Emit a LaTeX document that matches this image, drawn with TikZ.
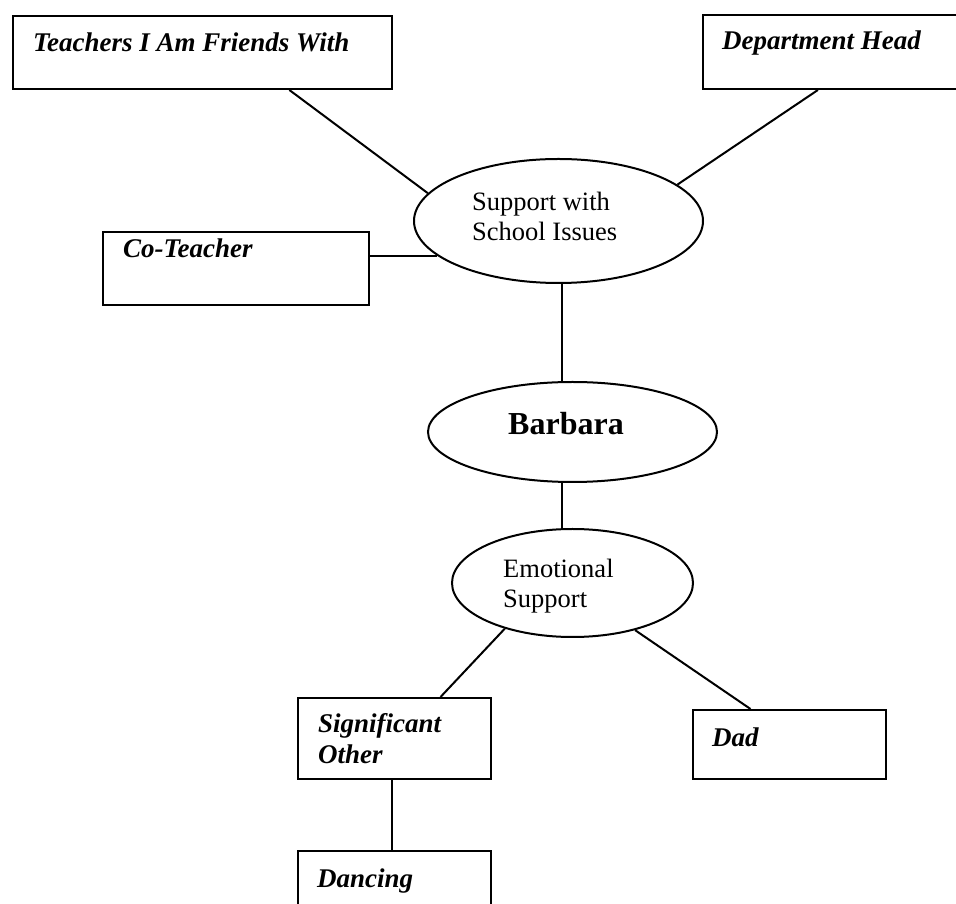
\documentclass[tikz,border=0pt]{standalone}
\usepackage{fontspec}
\setmainfont{Liberation Serif}
\usetikzlibrary{calc,shapes.geometric}

\tikzset{
  link/.style={line width=2pt, line cap=butt},
  box/.style={draw, line width=2pt, rectangle, inner sep=0pt, anchor=north west},
  oval/.style={draw, line width=2pt, ellipse, inner sep=0pt},
  boxtext/.style={anchor=base west, inner sep=0pt, font=\fontsize{27}{31}\selectfont\bfseries\itshape, align=left},
  ovaltext/.style={anchor=base west, inner sep=0pt, font=\fontsize{26.5}{30.5}\selectfont, align=left},
}

\begin{document}
\begin{tikzpicture}[x=1pt, y=1pt]
\useasboundingbox (0,0) rectangle (956,903);
\clip (0,0) rectangle (956,903);

% category ovals
\node[oval, minimum width=289, minimum height=124] (support) at (558.5,682) {};
\node[oval, minimum width=289, minimum height=100] (barbara) at (572.5,471) {};
\node[oval, minimum width=241, minimum height=108] (emo) at (572.5,320) {};

% people boxes
\node[box, minimum width=379, minimum height=73] (teachbox) at (12,888) {};
\node[box, minimum width=280, minimum height=74] (deptbox) at (702,889) {};
\node[box, minimum width=266, minimum height=73] (cobox) at (102,672) {};
\node[box, minimum width=193, minimum height=81] (sigbox) at (297,206) {};
\node[box, minimum width=193, minimum height=69] (dadbox) at (692,194) {};
\node[box, minimum width=193, minimum height=80] (dancebox) at (297,53) {};

% labels (a two-line node sits on the baseline of its last line)
\node[boxtext] (teachtxt) at (33,851) {Teachers I Am Friends With};
\node[boxtext] (depttxt) at (722,853) {Department Head};
\node[boxtext] (cotxt) at (123,645) {Co-Teacher};
\node[boxtext] (sigtxt) at (318,140) {Significant\\Other};
\node[boxtext] (dadtxt) at (712,157) {Dad};
\node[boxtext] (dancetxt) at (317,16) {Dancing};
\node[ovaltext] (supporttxt) at (472,662) {Support with\\School Issues};
\node[ovaltext] (emotxt) at (503,295) {Emotional\\Support};
\node[anchor=base, inner sep=0pt, font=\fontsize{32}{36}\selectfont\bfseries] (barbaratxt) at (566,468) {Barbara};

% connectors
\draw[link] ($(teachbox.south west)!0.728!(teachbox.south east)$) -- (support.168.1);
\draw[link] ($(deptbox.south west)!0.411!(deptbox.south east)$) -- (support.17.6);
\draw[link] (cobox.east |- support.196.35) -- (support.196.35);
\draw[link] ([xshift=3.5pt]support.south) -- ([xshift=3.5pt]support.south |- barbara.north);
\draw[link] ([xshift=-10.5pt]barbara.south) -- ([xshift=-10.5pt]emo.north);
\draw[link] (emo.214.3) -- ($(sigbox.north west)!0.736!(sigbox.north east)$);
\draw[link] (emo.323.9) -- ($(dadbox.north west)!0.30!(dadbox.north east)$);
\draw[link] ($(sigbox.south west)!0.487!(sigbox.south east)$) coordinate (sigfoot) -- (sigfoot |- dancebox.north);
\end{tikzpicture}
\end{document}
